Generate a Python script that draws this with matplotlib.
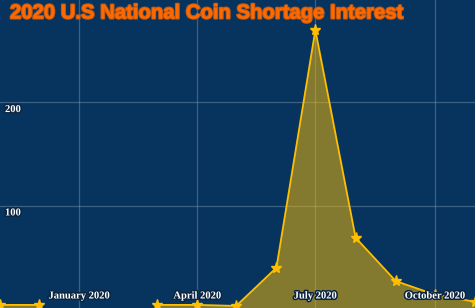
import datetime as dt
import numpy as np
import matplotlib
matplotlib.use("Agg")
import matplotlib.pyplot as plt
import matplotlib.patheffects as pe
from matplotlib.transforms import blended_transform_factory

months = ["2019-11", "2019-12", "2020-01", "2020-02", "2020-03", "2020-04", "2020-05",
          "2020-06", "2020-07", "2020-08", "2020-09", "2020-10", "2020-11"]
interest = [4, 4, None, None, 4, 4, 3, 40, 270, 69, 27, 14, 7]
x_ticks = ["2020-01", "2020-04", "2020-07", "2020-10"]
x_tick_labels = ["January 2020", "April 2020", "July 2020", "October 2020"]
y_ticks = [100, 200]
title = "2020 U.S National Coin Shortage Interest"

def to_date(s):
    y, m = s.split("-")
    return dt.datetime(int(y), int(m), 1)

dates = [to_date(m) for m in months]
tick_dates = [to_date(m) for m in x_ticks]
vals = np.array([np.nan if v is None else v for v in interest], dtype=float)

bg = "#07345f"
gold = "#ffbf00"

fig = plt.figure(figsize=(4.75, 3.08), dpi=100, facecolor=bg)
ax = fig.add_axes([0, 0, 1, 1], facecolor=bg)

ax.fill_between(dates, -10, vals, where=~np.isnan(vals), color=gold, alpha=0.5,
                linewidth=0, zorder=2)
ax.plot(dates, vals, color=gold, linewidth=1.3, marker="*", markersize=8,
        markerfacecolor=gold, markeredgecolor=gold, zorder=3)

ax.set_xlim(dates[0], dates[-1])
ax.set_ylim(1, 299)

ax.set_xticks(tick_dates)
ax.set_yticks(y_ticks)
ax.tick_params(length=0, labelbottom=False, labelleft=False)
ax.grid(True, color="#9fb3c8", alpha=0.35, linewidth=0.9, zorder=1)
ax.set_axisbelow(True)
for s in ax.spines.values():
    s.set_visible(False)

outline = [pe.withStroke(linewidth=2.2, foreground="#0b2540")]
tx = blended_transform_factory(ax.transData, ax.transAxes)
for d, lab in zip(tick_dates, x_tick_labels):
    ax.text(d, 12 / 308, lab, transform=tx, ha="center", va="center",
            fontsize=7.6, fontweight="bold", family="Liberation Serif",
            color="white", path_effects=outline, zorder=5)

ty = blended_transform_factory(ax.transAxes, ax.transData)
for v in y_ticks:
    ax.text(5 / 475, v - 7, str(v), transform=ty, ha="left", va="center",
            fontsize=7.6, fontweight="bold", family="Liberation Serif",
            color="white", path_effects=outline, zorder=5)

ax.text(10 / 475, 1 - 13 / 308, title, transform=ax.transAxes, ha="left", va="center",
        fontsize=14.6, fontweight="bold", family="Liberation Sans", color="#ff6a00",
        path_effects=[pe.withStroke(linewidth=1.5, foreground="#c85a10")], zorder=6)

fig.savefig("out.png", dpi=100, facecolor=bg)
